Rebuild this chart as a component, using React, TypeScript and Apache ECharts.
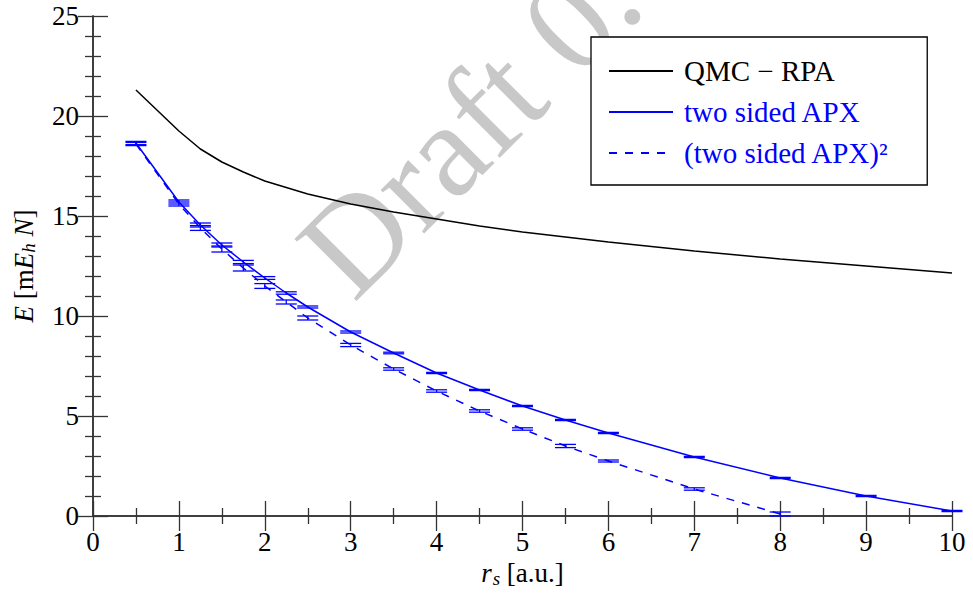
import React, { useEffect, useRef } from "react";
import * as echarts from "echarts";

// r_s values and energies (mE_h N)
const qmcX = [0.5, 1, 1.25, 1.5, 1.75, 2, 2.5, 3, 3.5, 4, 4.5, 5, 5.5, 6, 7, 8, 9, 10];
const qmcY = [21.3, 19.25, 18.35, 17.7, 17.2, 16.75, 16.1, 15.6, 15.2, 14.85, 14.5, 14.2, 13.95, 13.7, 13.25, 12.85, 12.5, 12.15];

const apxX = [0.5, 1, 1.25, 1.5, 1.75, 2, 2.25, 2.5, 3, 3.5, 4, 4.5, 5, 5.5, 6, 7, 8, 9, 10];
const apxY = [18.65, 15.7, 14.55, 13.55, 12.7, 11.9, 11.15, 10.45, 9.2, 8.15, 7.15, 6.3, 5.5, 4.8, 4.15, 2.95, 1.9, 1.0, 0.25];
const apxErr = [0.08, 0.1, 0.1, 0.1, 0.08, 0.07, 0.06, 0.05, 0.05, 0.04, 0.03, 0.03, 0.03, 0.03, 0.03, 0.03, 0.03, 0.03, 0.03];

const apx2X = [0.5, 1, 1.25, 1.5, 1.75, 2, 2.25, 2.5, 3, 3.5, 4, 4.5, 5, 5.5, 6, 7, 8];
const apx2Y = [18.6, 15.6, 14.4, 13.35, 12.4, 11.5, 10.7, 9.9, 8.55, 7.35, 6.25, 5.25, 4.35, 3.5, 2.75, 1.35, 0.1];
const apx2Err = [0.08, 0.1, 0.12, 0.15, 0.15, 0.12, 0.1, 0.1, 0.08, 0.06, 0.06, 0.06, 0.06, 0.08, 0.05, 0.06, 0.1];

const xTicks = { min: 0, max: 10, interval: 1 };
const yTicks = { min: 0, max: 25, interval: 5 };

const names = ["QMC \u2212 RPA", "two sided APX", "(two sided APX)\u00b2"];
const watermark = "Draft 0.";

const FONT = "'Liberation Serif', 'DejaVu Serif', serif";
const BLUE = "#0000ff";
const AXIS = "#333333";

function pairs(xs: number[], ys: number[]) {
  return xs.map((x, i) => [x, ys[i]]);
}
function triples(xs: number[], ys: number[], es: number[]) {
  return xs.map((x, i) => [x, ys[i], es[i]]);
}

function errorRender(params: any, api: any) {
  const x = api.value(0);
  const y = api.value(1);
  const e = api.value(2);
  const lo = api.coord([x, y - e]);
  const hi = api.coord([x, y + e]);
  const hw = 10.5;
  const style = { stroke: BLUE, lineWidth: 1.3 };
  return {
    type: "group",
    children: [
      { type: "line", shape: { x1: lo[0], y1: lo[1], x2: hi[0], y2: hi[1] }, style },
      { type: "line", shape: { x1: lo[0] - hw, y1: lo[1], x2: lo[0] + hw, y2: lo[1] }, style },
      { type: "line", shape: { x1: hi[0] - hw, y1: hi[1], x2: hi[0] + hw, y2: hi[1] }, style },
    ],
  };
}

export default function App() {
  const ref = useRef<HTMLDivElement>(null);
  useEffect(() => {
    if (!ref.current) return;
    const chart = echarts.init(ref.current, null, { renderer: "svg" });
    const axisCommon = {
      axisLine: { show: true, lineStyle: { color: AXIS, width: 1.5 } },
      axisTick: { show: true, inside: true, length: 15, lineStyle: { color: AXIS, width: 1.3 } },
      splitLine: { show: false },
    };
    const labelStyle = { fontFamily: FONT, fontSize: 27, color: "#000" };
    const legendText = (color: string) => ({
      fontFamily: FONT,
      fontSize: 29,
      lineHeight: 30,
      color,
      padding: [0, 0, 0, 6],
    });
    chart.setOption({
      animation: false,
      backgroundColor: "#fff",
      grid: { left: 93, right: 21, top: 16, bottom: 81, containLabel: false },
      graphic: [
        {
          type: "text",
          z: -10,
          x: 322,
          y: 272,
          rotation: Math.PI / 4,
          silent: true,
          style: {
            text: watermark,
            fontFamily: FONT,
            fontSize: 134,
            fill: "#c8c8c8",
            align: "left",
            verticalAlign: "middle",
          },
        },
      ],
      legend: {
        show: true,
        orient: "vertical",
        left: 591,
        top: 37,
        padding: [19, 38, 17, 17],
        borderColor: "#000",
        borderWidth: 1.3,
        backgroundColor: "#fff",
        itemWidth: 64,
        itemHeight: 14,
        itemGap: 11,
        itemStyle: { opacity: 0 },
        textStyle: legendText("#000"),
        data: [
          { name: names[0], textStyle: legendText("#000") },
          { name: names[1], textStyle: legendText(BLUE) },
          { name: names[2], textStyle: legendText(BLUE) },
        ],
      },
      xAxis: [
        {
          type: "value",
          ...xTicks,
          position: "bottom",
          ...axisCommon,
          minorTick: { show: true, splitNumber: 2, length: 8, lineStyle: { color: AXIS, width: 1.3 } },
          axisLabel: { ...labelStyle, margin: 12 },
          name: "{i|r}{sub|s} [a.u.]",
          nameLocation: "middle",
          nameGap: 38,
          nameTextStyle: {
            fontFamily: FONT,
            fontSize: 27,
            color: "#000",
            rich: {
              i: { fontFamily: FONT, fontSize: 27, fontStyle: "italic", color: "#000" },
              sub: { fontFamily: FONT, fontSize: 19, fontStyle: "italic", color: "#000", verticalAlign: "bottom", padding: [10, 0, 0, 1] },
            },
          },
        },
        {
          type: "value",
          ...xTicks,
          position: "top",
          ...axisCommon,
          minorTick: { show: true, splitNumber: 2, length: 8, lineStyle: { color: AXIS, width: 1.3 } },
          axisLabel: { show: false },
        },
      ],
      yAxis: [
        {
          type: "value",
          ...yTicks,
          position: "left",
          ...axisCommon,
          minorTick: { show: true, splitNumber: 5, length: 8, lineStyle: { color: AXIS, width: 1.3 } },
          axisLabel: { ...labelStyle, margin: 14 },
          name: "{i|E} [m{i|E}{sub|h} {i|N}]",
          nameLocation: "middle",
          nameRotate: 90,
          nameGap: 55,
          nameTextStyle: {
            fontFamily: FONT,
            fontSize: 27,
            color: "#000",
            rich: {
              i: { fontFamily: FONT, fontSize: 27, fontStyle: "italic", color: "#000" },
              sub: { fontFamily: FONT, fontSize: 19, fontStyle: "italic", color: "#000", verticalAlign: "bottom", padding: [10, 0, 0, 0] },
            },
          },
        },
        {
          type: "value",
          ...yTicks,
          position: "right",
          ...axisCommon,
          minorTick: { show: true, splitNumber: 5, length: 8, lineStyle: { color: AXIS, width: 1.3 } },
          axisLabel: { show: false },
        },
      ],
      series: [
        {
          name: names[0],
          type: "line",
          data: pairs(qmcX, qmcY),
          symbol: "none",
          smooth: false,
          lineStyle: { color: "#000", width: 1.5 },
          itemStyle: { color: "#000" },
          z: 3,
        },
        {
          name: names[1],
          type: "line",
          data: pairs(apxX, apxY),
          symbol: "none",
          lineStyle: { color: BLUE, width: 1.5 },
          itemStyle: { color: BLUE },
          z: 3,
        },
        {
          name: names[2],
          type: "line",
          data: pairs(apx2X, apx2Y),
          symbol: "none",
          lineStyle: { color: BLUE, width: 1.5, type: [8, 8] },
          itemStyle: { color: BLUE },
          z: 3,
        },
        {
          name: "err1",
          type: "custom",
          renderItem: errorRender,
          data: triples(apxX, apxY, apxErr),
          encode: { x: 0, y: 1 },
          z: 4,
        },
        {
          name: "err2",
          type: "custom",
          renderItem: errorRender,
          data: triples(apx2X, apx2Y, apx2Err),
          encode: { x: 0, y: 1 },
          z: 4,
        },
      ],
    });
    return () => chart.dispose();
  }, []);
  return <div ref={ref} style={{ width: 973, height: 597, position: "absolute", left: 0, top: 0 }} />;
}
